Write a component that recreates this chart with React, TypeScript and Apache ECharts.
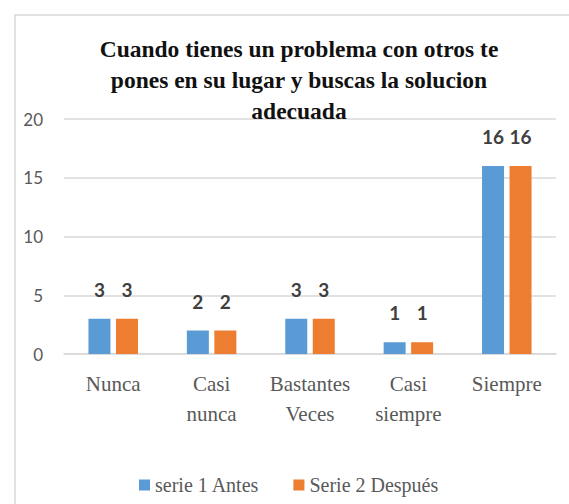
import React, { useEffect, useRef } from "react";
import * as echarts from "echarts";

const categories = ["Nunca", "Casi\nnunca", "Bastantes\nVeces", "Casi\nsiempre", "Siempre"];
const serie1Antes = [3, 2, 3, 1, 16];
const serie2Despues = [3, 2, 3, 1, 16];
const yTicks = { min: 0, max: 20, interval: 5 };
const titleLines = [
  "Cuando tienes un problema con otros te",
  "pones en su lugar y buscas la solucion",
  "adecuada",
];
const seriesNames = ["serie 1 Antes", "Serie 2 Después"];

const SERIF = "Liberation Serif";

export default function App() {
  const ref = useRef<HTMLDivElement>(null);
  useEffect(() => {
    if (!ref.current) return;
    const chart = echarts.init(ref.current, null, { renderer: "svg" });
    const labelStyle = {
      show: true,
      position: "top" as const,
      distance: 20,
      fontFamily: "Lato",
      fontSize: 19,
      fontWeight: "bold" as const,
      color: "#404040",
    };
    chart.setOption({
      animation: false,
      backgroundColor: "#ffffff",
      graphic: [
        {
          type: "rect",
          shape: { x: 15, y: 15, width: 620, height: 620 },
          style: { fill: "none", stroke: "#d9d9d9", lineWidth: 1.5 },
          silent: true,
          z: -1,
        },
        {
          type: "text",
          x: 299,
          y: 33,
          z: 10,
          style: {
            text: titleLines.join("\n"),
            textAlign: "center",
            textVerticalAlign: "top",
            fontFamily: SERIF,
            fontWeight: "bold",
            fontSize: 23.5,
            lineHeight: 31,
            fill: "#111111",
          },
        },
      ],
      legend: {
        data: seriesNames,
        left: 134,
        top: 470,
        icon: "rect",
        itemWidth: 11,
        itemHeight: 11,
        itemGap: 34,
        textStyle: { fontFamily: SERIF, fontSize: 20, color: "#595959" },
      },
      grid: { left: 64, right: 13, top: 119, bottom: 150 },
      xAxis: {
        type: "category",
        data: categories,
        axisLine: { lineStyle: { color: "#d9d9d9", width: 1.5 } },
        axisTick: { show: false },
        axisLabel: {
          fontFamily: SERIF,
          fontSize: 21,
          lineHeight: 30,
          color: "#595959",
          margin: 15,
          interval: 0,
        },
      },
      yAxis: {
        type: "value",
        min: yTicks.min,
        max: yTicks.max,
        interval: yTicks.interval,
        axisLine: { show: false },
        axisTick: { show: false },
        splitLine: { lineStyle: { color: "#d9d9d9", width: 1.5 } },
        axisLabel: { fontFamily: "Lato", fontSize: 17, color: "#595959", margin: 21 },
      },
      series: [
        {
          name: seriesNames[0],
          type: "bar",
          data: serie1Antes,
          barWidth: 22,
          barGap: "25%",
          itemStyle: { color: "#5B9BD5" },
          label: labelStyle,
        },
        {
          name: seriesNames[1],
          type: "bar",
          data: serie2Despues,
          barWidth: 22,
          itemStyle: { color: "#ED7D31" },
          label: labelStyle,
        },
      ],
    });
    return () => chart.dispose();
  }, []);
  return (
    <div
      ref={ref}
      style={{ position: "fixed", left: 0, top: 0, width: 569, height: 504 }}
    />
  );
}
